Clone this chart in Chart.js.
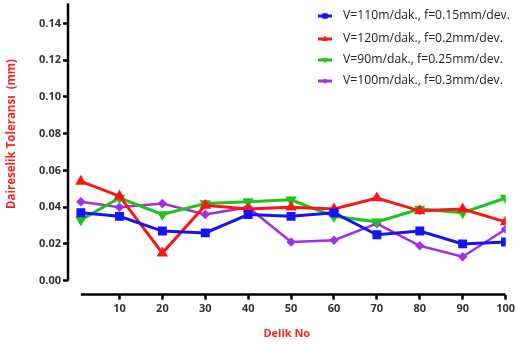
<!DOCTYPE html>
<html>
<head>
<meta charset="utf-8">
<script src="https://cdn.jsdelivr.net/npm/chart.js@4.4.0/dist/chart.umd.min.js"></script>
<style>
  html, body { margin: 0; padding: 0; background: #fff; }
  #wrap { width: 518px; height: 344px; }
</style>
</head>
<body>
<div id="wrap"><canvas id="c" width="518" height="344"></canvas></div>
<script>
// Delik numaraları
const delikNo = [1, 10, 20, 30, 40, 50, 60, 70, 80, 90, 100];
const xTicks = [10, 20, 30, 40, 50, 60, 70, 80, 90, 100];
const yTicks = [0, 0.02, 0.04, 0.06, 0.08, 0.10, 0.12, 0.14];

// Seriler (mm)
const seri110 = [0.037, 0.035, 0.027, 0.026, 0.036, 0.035, 0.037, 0.025, 0.027, 0.020, 0.021];
const seri120 = [0.054, 0.046, 0.015, 0.041, 0.039, 0.040, 0.039, 0.045, 0.038, 0.039, 0.032];
const seri90  = [0.033, 0.045, 0.036, 0.042, 0.043, 0.044, 0.035, 0.032, 0.039, 0.037, 0.045];
const seri100 = [0.043, 0.040, 0.042, 0.036, 0.040, 0.021, 0.022, 0.031, 0.019, 0.013, 0.028];

const labels = [
  'V=110m/dak., f=0.15mm/dev.',
  'V=120m/dak., f=0.2mm/dev.',
  'V=90m/dak., f=0.25mm/dev.',
  'V=100m/dak., f=0.3mm/dev.'
];
const yBaslik = 'Daireselik Toleransı  (mm)';

const toPoints = arr => arr.map((v, i) => ({ x: delikNo[i], y: v }));

const tickFont = { family: 'Open Sans', size: 11, weight: 'bold' };

// eksen çizgileri, y başlığı ve lejant
const eksenPlugin = {
  id: 'eksen',
  afterDraw(chart) {
    const ctx = chart.ctx;
    const x = chart.scales.x, y = chart.scales.y;
    const area = chart.chartArea;
    ctx.save();
    ctx.strokeStyle = '#000';
    ctx.lineWidth = 2.5;
    ctx.beginPath();
    ctx.moveTo(area.left, y.getPixelForValue(0.151));
    ctx.lineTo(area.left, y.getPixelForValue(0));
    ctx.stroke();
    ctx.beginPath();
    ctx.moveTo(x.getPixelForValue(delikNo[0]), area.bottom);
    ctx.lineTo(x.getPixelForValue(100), area.bottom);
    ctx.stroke();

    // y başlığı
    ctx.save();
    ctx.translate(12, 134);
    ctx.rotate(-Math.PI / 2);
    ctx.fillStyle = '#ff2020';
    ctx.font = 'bold 11.5px "Open Sans"';
    ctx.textAlign = 'center';
    ctx.textBaseline = 'middle';
    ctx.fillText(yBaslik, 0, 0);
    ctx.restore();

    // lejant
    let ly = 16;
    const gaps = [23, 21, 21];
    chart.data.datasets.forEach((ds, i) => {
      ctx.strokeStyle = ds.borderColor;
      ctx.fillStyle = ds.backgroundColor;
      ctx.lineWidth = 3;
      ctx.beginPath();
      ctx.moveTo(318, ly);
      ctx.lineTo(332, ly);
      ctx.stroke();
      ctx.lineWidth = 1;
      Chart.helpers.drawPoint(ctx, {
        pointStyle: ds.pointStyle, radius: ds.pointRadius * 0.75,
        rotation: ds.pointRotation || 0, borderWidth: 1
      }, 325, ly);
      ctx.fillStyle = '#222';
      ctx.font = '12.2px "Open Sans"';
      ctx.textBaseline = 'middle';
      ctx.fillText(ds.label, 343, ly);
      ly += gaps[i] || 0;
    });
    ctx.restore();
  }
};

new Chart(document.getElementById('c'), {
  type: 'line',
  data: {
    datasets: [
      { label: labels[0], data: toPoints(seri110), borderColor: '#1414f5', backgroundColor: '#1414f5',
        pointStyle: 'rect', pointRadius: 4.2, borderWidth: 3 },
      { label: labels[1], data: toPoints(seri120), borderColor: '#ff1414', backgroundColor: '#ff1414',
        pointStyle: 'triangle', pointRadius: 3.6, borderWidth: 3 },
      { label: labels[2], data: toPoints(seri90), borderColor: '#1ec31e', backgroundColor: '#1ec31e',
        pointStyle: 'triangle', pointRotation: 180, pointRadius: 3.6, borderWidth: 3 },
      { label: labels[3], data: toPoints(seri100), borderColor: '#a22ee6', backgroundColor: '#a22ee6',
        pointStyle: 'rectRot', pointRadius: 3, borderWidth: 2.5 }
    ]
  },
  options: {
    responsive: false,
    animation: false,
    layout: { padding: { top: 3, right: 9, bottom: 4, left: 37 } },
    plugins: {
      legend: { display: false },
      tooltip: { enabled: false }
    },
    scales: {
      x: {
        type: 'linear',
        min: -2,
        max: 100,
        afterBuildTicks: s => { s.ticks = xTicks.map(v => ({ value: v })); },
        grid: { drawOnChartArea: false, drawTicks: true, tickLength: 5, tickWidth: 2.5, color: '#000' },
        border: { display: false },
        ticks: { color: '#333', font: tickFont, padding: 3, maxRotation: 0 },
        title: { display: true, text: 'Delik No', color: '#ff2020',
                 font: { family: 'Open Sans', size: 11, weight: 'bold' }, padding: { top: 8, bottom: 0 } }
      },
      y: {
        min: -0.0076,
        max: 0.1481,
        afterBuildTicks: s => { s.ticks = yTicks.map(v => ({ value: v })); },
        grid: { drawOnChartArea: false, drawTicks: true, tickLength: 5, tickWidth: 2.5, color: '#000' },
        border: { display: false },
        ticks: { color: '#333', font: tickFont, padding: 2, callback: v => v.toFixed(2) }
      }
    }
  },
  plugins: [eksenPlugin]
});
</script>
</body>
</html>
